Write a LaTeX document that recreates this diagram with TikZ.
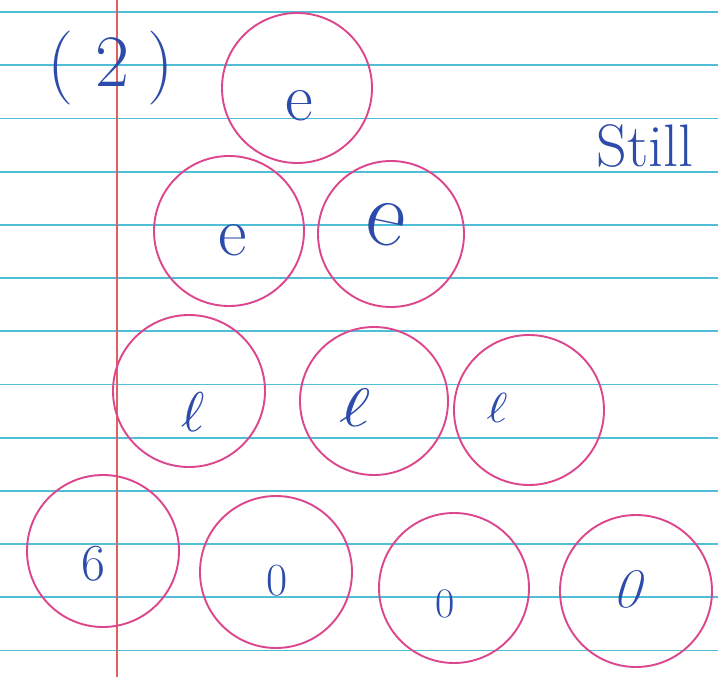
\documentclass[tikz,border=0pt]{standalone}
\usepackage{tikz}
\usepackage{xcolor}
\usetikzlibrary{positioning}
\definecolor{cRule}{RGB}{80,190,215}
\definecolor{cMargin}{RGB}{225,95,95}
\definecolor{cPink}{RGB}{220,70,140}
\definecolor{cInk}{RGB}{45,75,170}
\tikzset{
	rule/.style   ={cRule, line width=1.8pt},
	margin/.style ={cMargin, line width=1.4pt},
	disc/.style   ={circle, draw=cPink, line width=1.9pt, minimum size=150pt, inner sep=0pt},
	ink/.style    ={text=cInk, inner sep=0pt, font=\fontsize{#1}{#1}\selectfont},
	loopl/.style  ={text=cInk, inner sep=0pt, scale=#1},
}
\begin{document}
\begin{tikzpicture}[x=1pt, y=-1pt]
	\useasboundingbox (0,0) rectangle (718,677);
	\fill[white] (0,0) rectangle (718,677);
	% ruled paper
	\foreach \k in {0,...,12}
		\draw[rule] (0,12+53.2*\k) -- (718,12+53.2*\k);
	\draw[margin] (117,0) -- (117,677);
	% labels
	\node[ink=74] (num) at (111,68) {(\hspace{22pt}2\hspace{18pt})};
	\node[ink=60] (still) at (645,146) {Still};
	% row 1
	\node[disc] (c1) at (297,88) {};
	\node[ink=68] (t1) at (299,106) {e};
	% row 2
	\node[disc] (c2) at (229,231) {};
	\node[disc, minimum size=146pt] (c3) at (391,234) {};
	\node[ink=70] (t2) at (233,240) {e};
	\node[ink=95, rotate=-12] (t3) at (386,224) {e};
	% row 3
	\node[disc, minimum size=152pt] (c4) at (189,391) {};
	\node[disc, minimum size=148pt] (c5) at (374,401) {};
	\node[disc] (c6) at (529,410) {};
	\node[loopl=5.6] (t4) at (193,412) {$\ell$};
	\node[loopl=5.4, xscale=1.4] (t5) at (355,408) {$\ell$};
	\node[loopl=4.2, xscale=1.2] (t6) at (497,408) {$\ell$};
	% row 4
	\node[disc, minimum size=152pt] (c7) at (103,551) {};
	\node[disc, minimum size=152pt] (c8) at (276,572) {};
	\node[disc] (c9) at (454,588) {};
	\node[disc, minimum size=152pt] (c10) at (636,591) {};
	\node[ink=52] (t7) at (93,564) {6};
	\node[ink=46] (t8) at (277,581) {0};
	\node[ink=42] (t9) at (445,604) {0};
	\node[ink=56, xslant=0.3] (t10) at (632,589) {0};
\end{tikzpicture}
\end{document}
